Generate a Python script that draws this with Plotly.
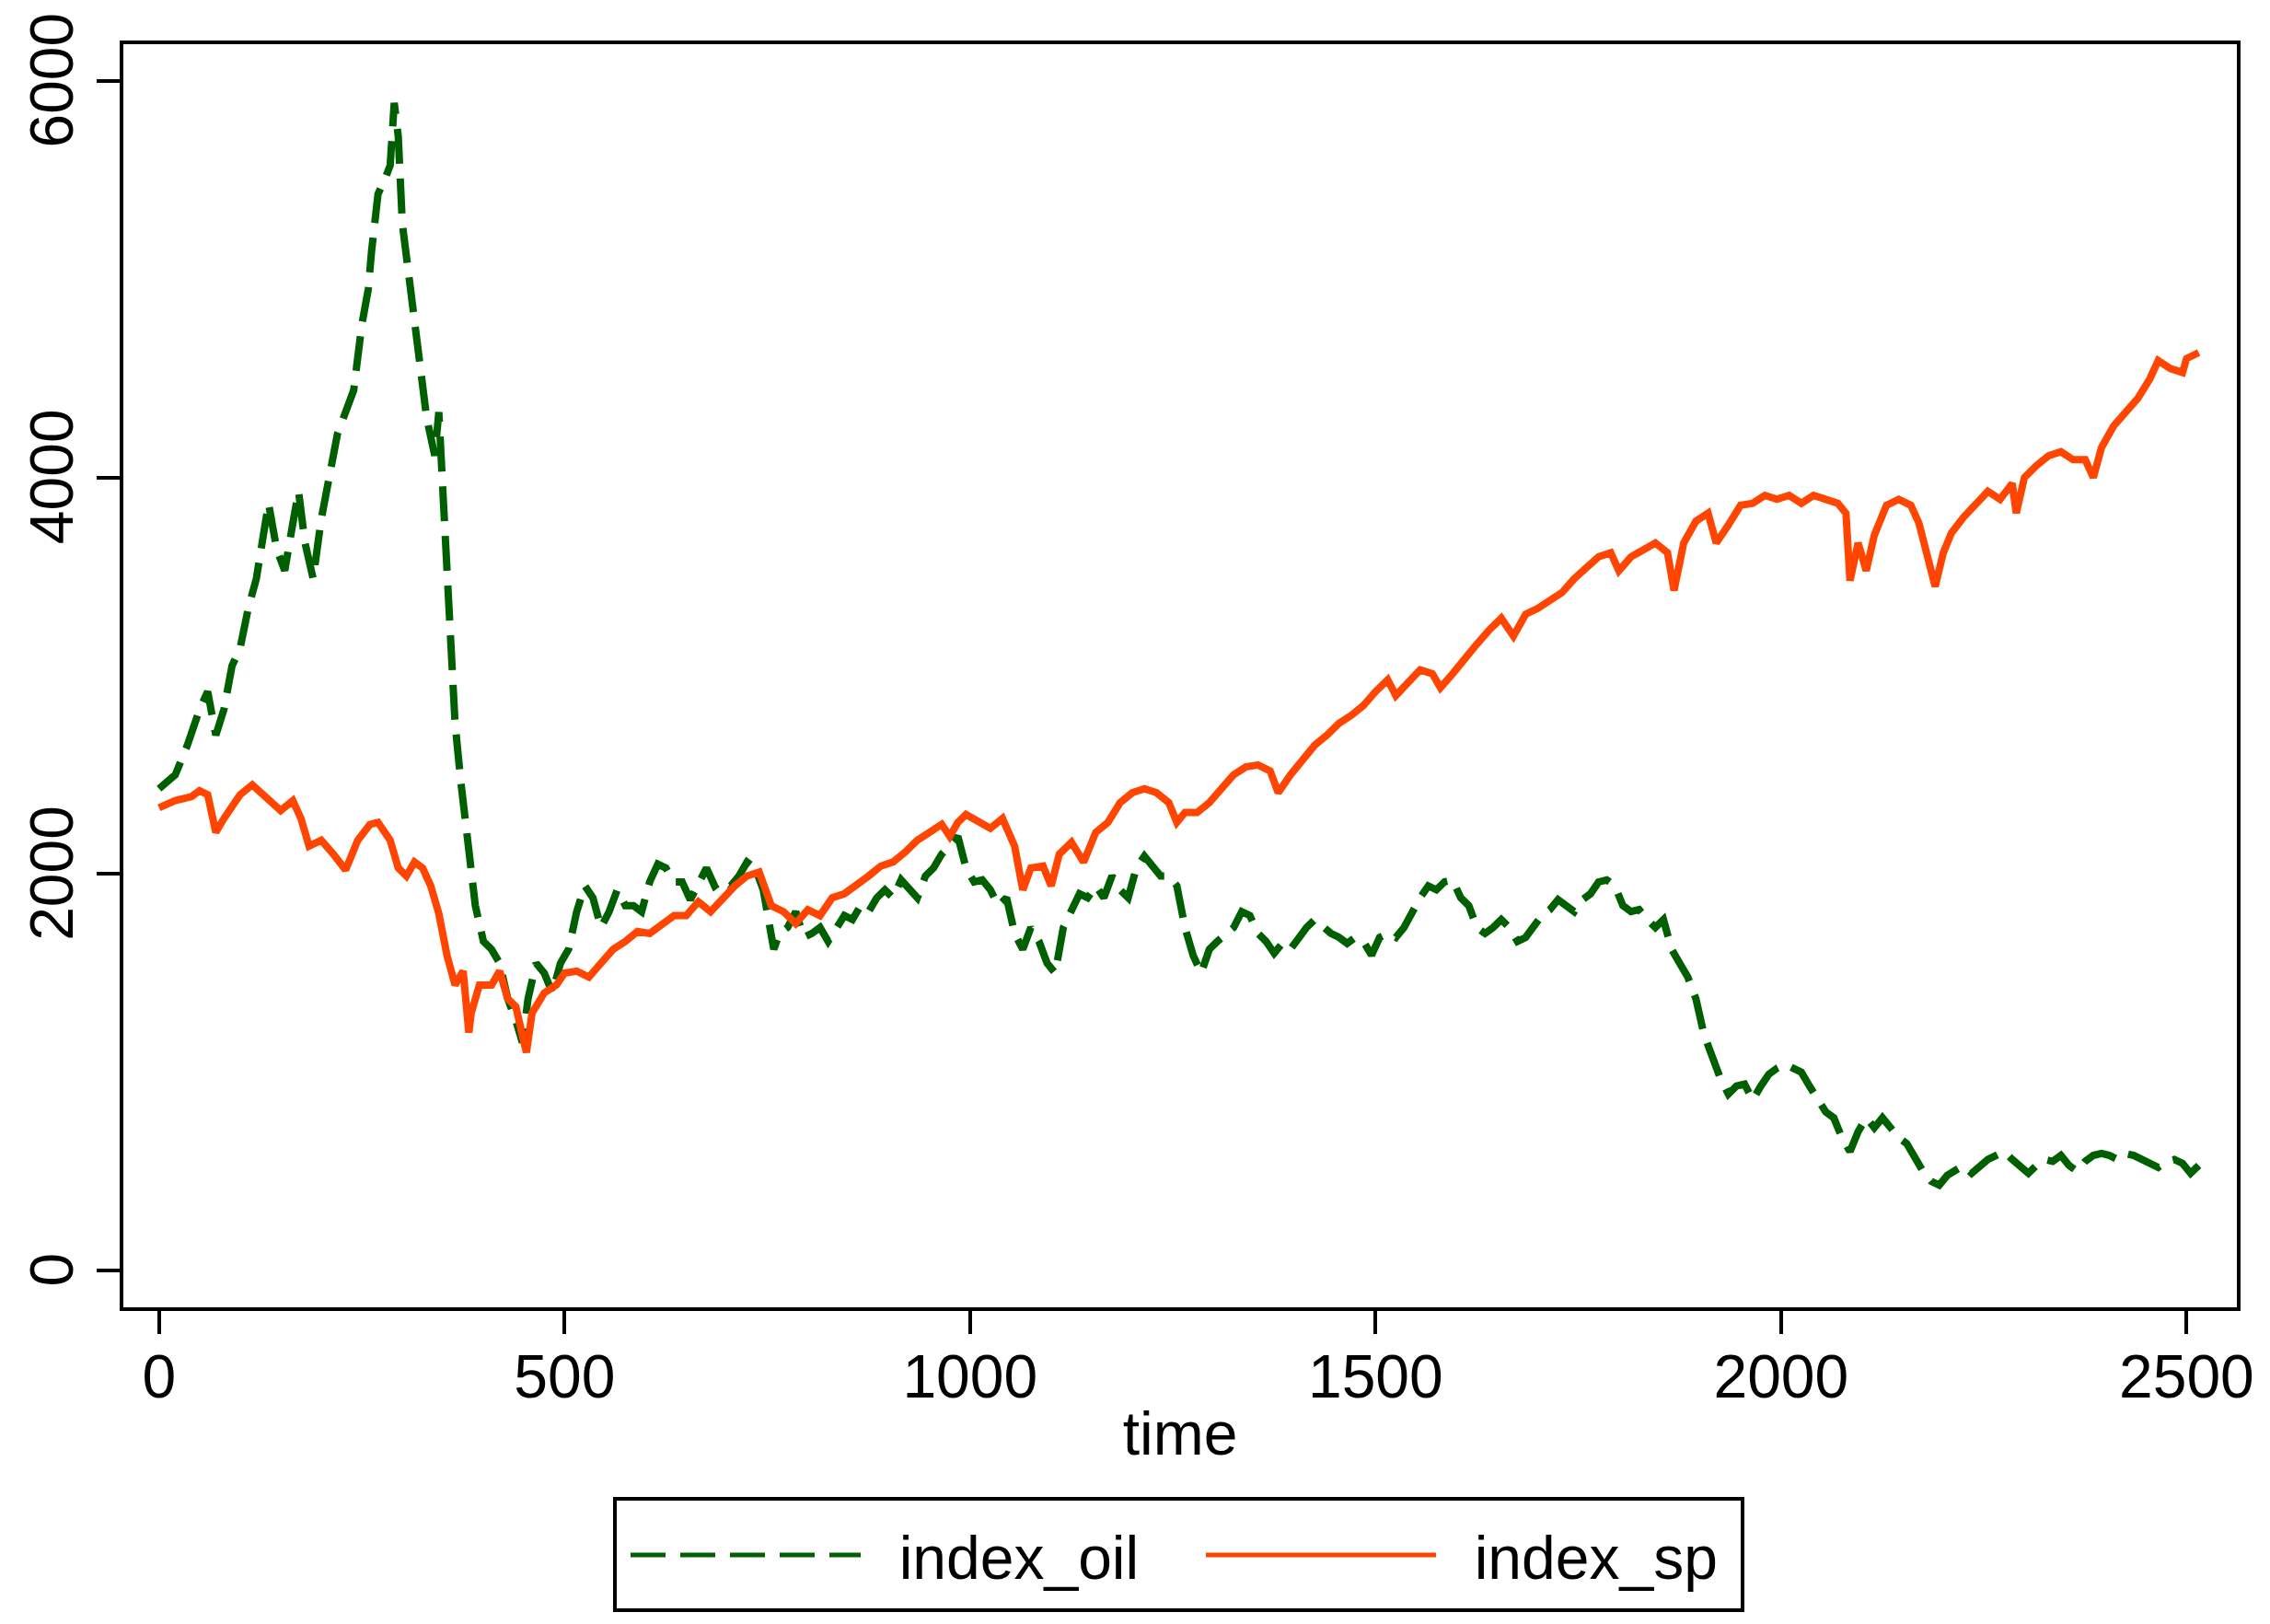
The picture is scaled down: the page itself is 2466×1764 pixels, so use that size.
import plotly.graph_objects as go

# ---- data ----
time_sp = [0, 20, 40, 50, 60, 70, 80, 100, 115, 130, 150, 165, 175, 185, 200, 215, 230, 245, 260, 270,
           285, 295, 305, 315, 325, 335, 345, 355, 365, 375, 382, 385, 395, 410, 420, 430, 440, 450, 453, 460,
           475, 490, 500, 515, 530, 545, 560, 575, 590, 605, 620, 635, 650, 665, 680, 695, 710, 725, 740, 755,
           770, 785, 800, 815, 830, 845, 860, 875, 890, 905, 920, 935, 950, 965, 975, 985, 995, 1010, 1025, 1040,
           1055, 1065, 1075, 1090, 1100, 1110, 1125, 1140, 1155, 1170, 1185, 1200, 1215, 1230, 1245, 1255, 1265, 1280, 1295, 1310,
           1325, 1340, 1355, 1370, 1380, 1395, 1410, 1425, 1440, 1455, 1470, 1485, 1500, 1515, 1525, 1540, 1555, 1570, 1580, 1595,
           1610, 1625, 1640, 1655, 1670, 1685, 1700, 1715, 1730, 1745, 1760, 1775, 1790, 1800, 1815, 1830, 1845, 1860, 1868, 1880,
           1895, 1910, 1920, 1935, 1950, 1965, 1980, 1995, 2010, 2025, 2040, 2055, 2070, 2080, 2085, 2095, 2105, 2115, 2130, 2145,
           2160, 2170, 2180, 2190, 2200, 2210, 2225, 2240, 2255, 2270, 2285, 2290, 2300, 2315, 2330, 2345, 2360, 2375, 2385, 2395,
           2410, 2425, 2440, 2455, 2465, 2480, 2495, 2500, 2515]
index_sp = [2334, 2370, 2390, 2420, 2400, 2210, 2280, 2400, 2450, 2390, 2320, 2370, 2280, 2140, 2170, 2100, 2020, 2170, 2250, 2260,
            2170, 2030, 1990, 2060, 2030, 1940, 1800, 1590, 1440, 1510, 1200, 1300, 1440, 1440, 1510, 1370, 1330, 1150, 1100, 1300,
            1400, 1440, 1500, 1510, 1480, 1550, 1620, 1660, 1710, 1700, 1750, 1790, 1790, 1860, 1810, 1880, 1940, 1990, 2010, 1840,
            1810, 1750, 1820, 1790, 1880, 1900, 1940, 1990, 2040, 2060, 2110, 2170, 2210, 2250, 2190, 2260, 2300, 2260, 2230, 2280,
            2140, 1920, 2030, 2040, 1940, 2100, 2160, 2060, 2210, 2260, 2360, 2410, 2430, 2410, 2360, 2260, 2310, 2310, 2360, 2430,
            2500, 2540, 2550, 2520, 2410, 2500, 2580, 2650, 2700, 2760, 2800, 2850, 2920, 2980, 2900, 2960, 3030, 3010, 2940, 3010,
            3090, 3160, 3230, 3290, 3200, 3310, 3340, 3380, 3420, 3490, 3550, 3600, 3620, 3530, 3600, 3640, 3670, 3620, 3430, 3670,
            3780, 3820, 3670, 3760, 3860, 3870, 3910, 3890, 3910, 3870, 3910, 3890, 3870, 3820, 3480, 3670, 3530, 3710, 3860, 3890,
            3860, 3770, 3600, 3450, 3620, 3720, 3800, 3870, 3930, 3890, 3970, 3820, 4000, 4060, 4110, 4130, 4090, 4090, 4000, 4150,
            4260, 4330, 4400, 4500, 4590, 4550, 4530, 4600, 4630]

time_oil = [0, 20, 35, 50, 60, 70, 80, 90, 100, 110, 120, 130, 135, 145, 155, 165, 172, 180, 190, 200,
            210, 220, 230, 240, 250, 258, 262, 270, 278, 285, 290, 295, 300, 310, 318, 325, 330, 340, 345, 350,
            355, 360, 365, 372, 380, 390, 400, 410, 420, 430, 440, 448, 455, 465, 475, 485, 495, 505, 515, 525,
            535, 545, 555, 565, 575, 585, 595, 605, 615, 625, 635, 645, 655, 665, 675, 685, 695, 705, 715, 725,
            735, 745, 752, 758, 765, 775, 785, 795, 805, 815, 825, 835, 845, 855, 865, 875, 885, 895, 905, 915,
            925, 935, 945, 955, 965, 975, 985, 995, 1005, 1015, 1025, 1035, 1045, 1055, 1065, 1075, 1085, 1095, 1105, 1115,
            1125, 1135, 1145, 1155, 1165, 1175, 1185, 1195, 1205, 1215, 1225, 1235, 1245, 1255, 1265, 1275, 1285, 1295, 1305, 1315,
            1325, 1335, 1345, 1355, 1365, 1375, 1385, 1395, 1405, 1415, 1425, 1435, 1445, 1455, 1465, 1475, 1485, 1495, 1505, 1515,
            1525, 1535, 1545, 1555, 1565, 1575, 1585, 1595, 1605, 1615, 1625, 1635, 1645, 1655, 1665, 1675, 1685, 1695, 1705, 1715,
            1725, 1735, 1745, 1755, 1765, 1775, 1785, 1795, 1805, 1815, 1825, 1835, 1845, 1855, 1865, 1875, 1885, 1895, 1905, 1915,
            1925, 1935, 1945, 1955, 1965, 1975, 1985, 1995, 2005, 2015, 2025, 2035, 2045, 2055, 2065, 2075, 2085, 2095, 2105, 2115,
            2125, 2135, 2145, 2155, 2165, 2175, 2185, 2195, 2205, 2215, 2225, 2235, 2245, 2255, 2265, 2275, 2285, 2295, 2305, 2315,
            2325, 2335, 2345, 2355, 2365, 2375, 2385, 2395, 2405, 2415, 2425, 2435, 2445, 2455, 2465, 2475, 2485, 2495, 2505, 2515]
index_oil = [2430, 2500, 2650, 2830, 2920, 2700, 2830, 3050, 3140, 3340, 3490, 3710, 3870, 3640, 3530, 3770, 3930, 3670, 3490, 3790,
             4000, 4220, 4330, 4440, 4770, 4950, 5140, 5430, 5500, 5575, 5890, 5720, 5280, 4950, 4730, 4510, 4300, 4110, 4330, 3930,
             3490, 3120, 2760, 2470, 2170, 1840, 1660, 1620, 1550, 1370, 1260, 1150, 1370, 1550, 1500, 1400, 1550, 1620, 1810, 1940,
             1880, 1730, 1810, 1920, 1840, 1840, 1810, 1960, 2050, 2030, 1960, 1960, 1870, 1960, 2030, 1940, 1970, 1940, 1990, 2060,
             2030, 1920, 1730, 1620, 1700, 1730, 1810, 1680, 1700, 1730, 1660, 1730, 1790, 1770, 1840, 1810, 1880, 1920, 1880, 1970,
             1920, 1880, 1990, 2030, 2100, 2140, 2190, 2030, 1960, 1970, 1920, 1840, 1880, 1700, 1620, 1730, 1660, 1550, 1500, 1730,
             1810, 1900, 1880, 1940, 1880, 1990, 1920, 1880, 2030, 2090, 2040, 1990, 1990, 1940, 1730, 1590, 1500, 1620, 1660, 1700,
             1730, 1810, 1790, 1700, 1660, 1600, 1650, 1620, 1680, 1730, 1770, 1730, 1700, 1680, 1650, 1680, 1660, 1590, 1680, 1700,
             1680, 1730, 1810, 1880, 1940, 1920, 1960, 1970, 1880, 1840, 1730, 1700, 1730, 1770, 1730, 1660, 1680, 1730, 1790, 1820,
             1870, 1840, 1810, 1870, 1900, 1960, 1970, 1940, 1840, 1810, 1820, 1770, 1730, 1770, 1620, 1550, 1480, 1370, 1190, 1080,
             970, 890, 930, 940, 860, 930, 990, 1020, 1040, 1020, 1000, 930, 860, 800, 770, 670, 600, 700, 770, 720,
             770, 720, 670, 640, 560, 500, 450, 430, 480, 500, 530, 490, 530, 560, 580, 600, 560, 530, 490, 530,
             560, 550, 580, 530, 500, 550, 580, 590, 580, 560, 590, 580, 560, 530, 520, 550, 560, 540, 490, 530]

x_ticks = [0, 500, 1000, 1500, 2000, 2500]
y_ticks = [0, 2000, 4000, 6000]
x_title = "time"
series_names = ["index_oil", "index_sp"]

FONT = "Liberation Sans, Arial, Helvetica, sans-serif"
GREEN = "#005f00"
ORANGE = "#ff4500"
NBSP = "\u00a0"

fig = go.Figure()
fig.add_trace(go.Scatter(x=time_oil, y=index_oil, mode="lines", name=NBSP * 2 + series_names[0],
                         line=dict(color=GREEN, width=8, dash="38px,16px")))
fig.add_trace(go.Scatter(x=time_sp, y=index_sp, mode="lines", name=NBSP * 2 + series_names[1],
                         line=dict(color=ORANGE, width=8)))

axis_common = dict(showline=True, linecolor="black", linewidth=4, mirror=True,
                   ticks="outside", ticklen=25, tickwidth=4, tickcolor="black",
                   showgrid=False, zeroline=False, ticklabeloverflow="allow",
                   tickfont=dict(family=FONT, size=66, color="black"))

fig.update_xaxes(range=[-44, 2562], tickvals=x_ticks, ticktext=[str(v) for v in x_ticks],
                 ticklabelstandoff=-10,
                 title=dict(text=x_title, font=dict(family=FONT, size=66, color="black"), standoff=4),
                 **axis_common)
fig.update_yaxes(range=[-186, 6186], tickvals=y_ticks, ticktext=[str(v) for v in y_ticks],
                 tickangle=-90, ticklabelshift=9, **axis_common)

# legend frame (plot area in page px: x 134..2430, y 48..1420)
PX0, PX1, PY0, PY1 = 134, 2430, 48, 1420
def px_to_paper_x(px):
    return (px - PX0) / (PX1 - PX0)
def px_to_paper_y(py):
    return (PY1 - py) / (PY1 - PY0)

fig.add_shape(type="rect", xref="paper", yref="paper",
              x0=px_to_paper_x(668), x1=px_to_paper_x(1893),
              y0=px_to_paper_y(1749), y1=px_to_paper_y(1628),
              line=dict(color="black", width=4), fillcolor="rgba(0,0,0,0)")

fig.update_layout(
    width=2466, height=1764,
    margin=dict(l=126, r=44, t=40, b=352, autoexpand=False),
    paper_bgcolor="white", plot_bgcolor="white",
    font=dict(family=FONT, size=66, color="black"),
    showlegend=True,
    legend=dict(orientation="h", x=px_to_paper_x(680), xanchor="left",
                y=px_to_paper_y(1689), yanchor="middle",
                borderwidth=0, bgcolor="rgba(0,0,0,0)",
                font=dict(family=FONT, size=66, color="black"),
                itemwidth=250, entrywidth=360, entrywidthmode="pixels",
                itemsizing="constant", tracegroupgap=0),
)

fig.write_html("out.html")
